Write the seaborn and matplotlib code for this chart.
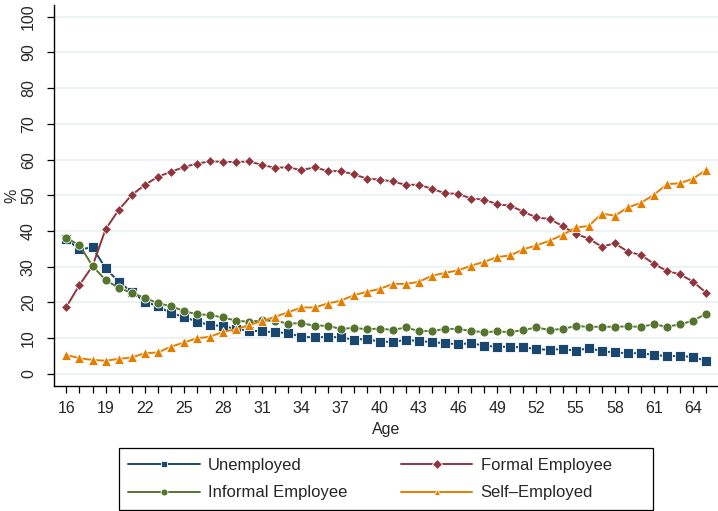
import matplotlib
matplotlib.use('Agg')
import matplotlib.pyplot as plt
from matplotlib.patches import Rectangle
import seaborn as sns
import numpy as np
import pandas as pd

ages = list(range(16, 66))

unemployed = [37.7, 34.9, 35.4, 29.6, 25.8, 23.0, 20.2, 19.0, 17.0, 16.0,
              14.6, 13.7, 13.4, 12.6, 12.1, 11.9, 11.7, 11.4, 10.4, 10.2,
              10.4, 10.2, 9.6, 9.8, 9.0, 9.0, 9.5, 9.2, 8.9, 8.6,
              8.3, 8.6, 7.9, 7.6, 7.6, 7.4, 7.0, 6.7, 7.0, 6.5,
              7.2, 6.4, 6.0, 5.8, 5.8, 5.3, 5.0, 5.0, 4.75, 3.6]

formal = [18.8, 24.9, 30.2, 40.5, 45.9, 50.1, 52.9, 55.2, 56.6, 57.9,
          58.9, 59.5, 59.4, 59.3, 59.5, 58.5, 57.7, 57.9, 57.0, 57.9,
          56.8, 56.8, 55.9, 54.7, 54.4, 53.9, 52.9, 53.0, 51.8, 50.6,
          50.4, 49.1, 48.8, 47.5, 47.1, 45.4, 43.8, 43.4, 41.4, 39.2,
          37.9, 35.6, 36.6, 34.2, 33.3, 30.8, 28.8, 27.9, 25.8, 22.7]

informal = [38.0, 36.1, 30.2, 26.3, 24.1, 22.7, 21.3, 19.8, 19.0, 17.6,
            16.7, 16.5, 15.8, 14.9, 14.6, 15.0, 14.8, 14.1, 14.2, 13.5,
            13.5, 12.6, 12.9, 12.5, 12.7, 12.3, 13.0, 12.0, 12.0, 12.6,
            12.6, 12.0, 11.7, 11.9, 11.7, 12.3, 13.0, 12.3, 12.6, 13.4,
            13.2, 13.2, 13.2, 13.3, 13.2, 13.9, 13.2, 13.9, 14.9, 16.9]

self_employed = [5.3, 4.4, 3.9, 3.7, 4.2, 4.6, 5.8, 6.0, 7.6, 8.8,
                 10.0, 10.4, 11.8, 12.5, 13.7, 14.8, 16.0, 17.3, 18.6, 18.6,
                 19.7, 20.5, 22.0, 23.0, 23.8, 25.2, 25.2, 25.8, 27.5, 28.3,
                 29.0, 30.3, 31.4, 32.7, 33.2, 34.9, 36.0, 37.3, 38.9, 41.0,
                 41.4, 44.9, 44.3, 46.6, 47.9, 50.2, 53.1, 53.4, 54.7, 57.1]

series = {
    'Unemployed': unemployed,
    'Formal Employee': formal,
    'Informal Employee': informal,
    'Self\u2013Employed': self_employed,
}

df = pd.concat([pd.DataFrame({'Age': ages, 'pct': v, 'Status': k}) for k, v in series.items()],
               ignore_index=True)

palette = {
    'Unemployed': '#1a476f',
    'Formal Employee': '#90353b',
    'Informal Employee': '#55752f',
    'Self\u2013Employed': '#e37e00',
}
markers = {
    'Unemployed': 's',
    'Formal Employee': 'D',
    'Informal Employee': 'o',
    'Self\u2013Employed': '^',
}

sns.set_style('white')
plt.rcParams['font.family'] = ['Liberation Sans', 'DejaVu Sans']

W, H = 718, 511
fig = plt.figure(figsize=(W / 100, H / 100), dpi=100)
ax = fig.add_axes([54 / W, 1 - 385.7 / H, (W - 54) / W, (385.7 - 5) / H])

for y in range(0, 101, 10):
    ax.axhline(y, color='#eaf2f3', lw=1.3, zorder=0)

sns.lineplot(data=df, x='Age', y='pct', hue='Status', style='Status',
             palette=palette, markers=markers, dashes=False, ax=ax,
             lw=1.4, markersize=6.5, markeredgewidth=0.6, legend=True)
for ln in ax.lines:
    if ln.get_marker() == 'D':
        ln.set_markersize(5.5)

ax.set_xlim(15.05, 65.9)
ax.set_ylim(-3.3, 103.3)
ax.set_xticks(range(16, 65, 3))
ax.set_xticks(range(16, 66), minor=True)
ax.set_yticks(range(0, 101, 10))
ax.tick_params(axis='both', which='both', direction='out', length=5, width=0.9,
               color='black', labelsize=11.5, bottom=True, left=True)
ax.tick_params(axis='x', which='major', pad=6)
ax.tick_params(axis='y', which='major', pad=8)
plt.setp(ax.get_yticklabels(), rotation=90, va='center')
for s in ['top', 'right']:
    ax.spines[s].set_visible(False)
for s in ['left', 'bottom']:
    ax.spines[s].set_color('black')
    ax.spines[s].set_linewidth(1.0)

ax.set_xlabel('Age', fontsize=11.5, labelpad=4)
ax.set_ylabel('%', fontsize=11.5, labelpad=1)

# legend contents without frame; the box is drawn separately
handles, labels = ax.get_legend_handles_labels()
order = ['Unemployed', 'Informal Employee', 'Formal Employee', 'Self\u2013Employed']
hmap = dict(zip(labels, handles))
leg = ax.legend([hmap[k] for k in order], order, ncol=2, loc='upper left',
                bbox_to_anchor=(128 / W, 1 - 458 / H), bbox_transform=fig.transFigure,
                borderaxespad=0, borderpad=0, frameon=False, fontsize=12,
                handlelength=4.3, handletextpad=0.5, columnspacing=3.2, labelspacing=0.75)
for h in leg.legend_handles:
    h.set_markersize(5)

fig.patches.append(Rectangle((119 / W, 1 - 510 / H), 534 / W, 62 / H,
                             transform=fig.transFigure, fill=False,
                             edgecolor='black', linewidth=0.9))

fig.savefig('out.png', dpi=100)
